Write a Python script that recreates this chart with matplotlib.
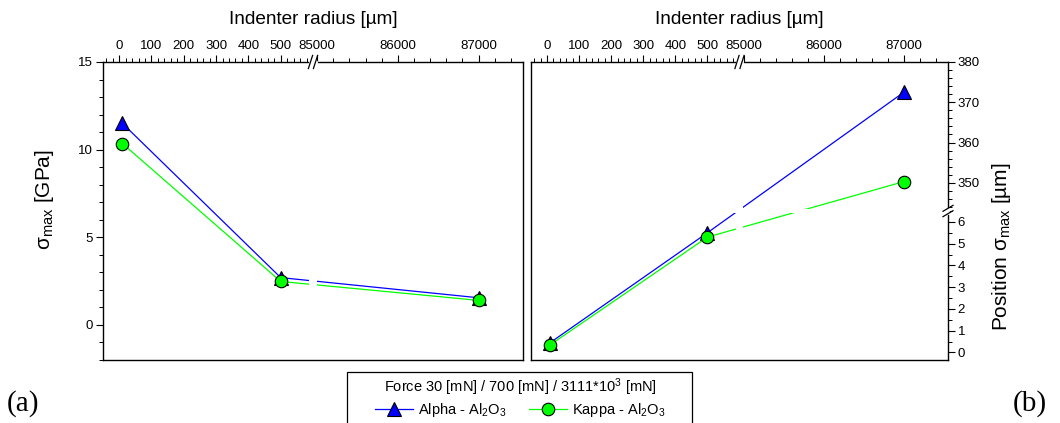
import numpy as np
import matplotlib.pyplot as plt
from matplotlib.lines import Line2D
from matplotlib.patches import Rectangle

plt.rcParams['font.family'] = ['Liberation Sans', 'DejaVu Sans']
plt.rcParams['mathtext.default'] = 'regular'

# indenter radius [µm]
radius = [10, 500, 87000]

# maximum stress [GPa]
alpha_sigma = [11.5, 2.7, 1.55]
kappa_sigma = [10.35, 2.48, 1.4]

# position of maximum stress [µm]
alpha_pos = [0.45, 5.5, 372.5]
kappa_pos = [0.35, 5.3, 350.3]

x_ticks = [0, 100, 200, 300, 400, 500, 85000, 86000, 87000]
x_minor = list(range(-40, 600, 20)) + list(range(85000, 87600, 200))
sigma_ticks = [0, 5, 10, 15]
sigma_minor = list(range(-2, 16))
pos_ticks = [0, 1, 2, 3, 4, 5, 6, 350, 360, 370, 380]
pos_minor = list(np.arange(0, 6.6, 0.5)) + list(range(344, 381, 2))

BLUE = '#0000ff'
GREEN = '#00ff00'


def make_break(lo_end, hi_start, ratio):
    """Piecewise linear scale with a gap between lo_end and hi_start"""
    def forward(v):
        v = np.asarray(v, dtype=float)
        return np.where(v <= lo_end, v,
                        np.where(v >= hi_start, lo_end + (v - hi_start) * ratio, lo_end))

    def inverse(t):
        t = np.asarray(t, dtype=float)
        return np.where(t <= lo_end, t, hi_start + (t - lo_end) / ratio)
    return forward, inverse


def slashes(ax, x, y, dx, dy, sep_x, sep_y):
    """Draw a // break mark centred at (x, y) in axes coords"""
    for s in (-1, 1):
        ax.plot([x + s * sep_x - dx, x + s * sep_x + dx],
                [y + s * sep_y - dy, y + s * sep_y + dy],
                transform=ax.transAxes, color='black', lw=0.9,
                clip_on=False, zorder=5)


def setup_x(ax):
    ax.set_xscale('function', functions=make_break(600, 84950, 0.25))
    ax.set_xlim(-50, 87550)
    ax.set_xticks(x_ticks)
    ax.set_xticklabels([str(t) for t in x_ticks])
    ax.set_xticks(x_minor, minor=True)
    ax.xaxis.tick_top()
    ax.xaxis.set_label_position('top')
    ax.tick_params(axis='x', which='both', top=True, bottom=False,
                   labeltop=True, labelbottom=False, direction='out', pad=2,
                   labelsize=9.5)
    ax.tick_params(axis='x', which='major', length=5, width=0.8)
    ax.tick_params(axis='x', which='minor', length=3, width=0.7)
    ax.set_xlabel('Indenter radius [µm]', fontsize=13.7, labelpad=12)
    # white band so lines are cut at the break
    ax.add_patch(Rectangle((0.5 - 0.009, 0), 0.018, 1, transform=ax.transAxes,
                           facecolor='white', edgecolor='none', zorder=2.1))
    # gap in the top spine and break mark
    ax.plot([0.5 - 0.006, 0.5 + 0.006], [1, 1], transform=ax.transAxes,
            color='white', lw=2, clip_on=False, zorder=4)
    slashes(ax, 0.5, 1.0, 0.005, 0.022, 0.006, 0.0)


def plot_series(ax, ya, yk):
    ax.plot(radius, ya, color=BLUE, lw=0.9, marker='^', ms=10,
            mfc=BLUE, mec='black', mew=0.8, zorder=2)
    ax.plot(radius, yk, color=GREEN, lw=0.9, marker='o', ms=9,
            mfc=GREEN, mec='black', mew=0.8, zorder=2)


fig = plt.figure(figsize=(10.6, 4.23), dpi=100)
ax1 = fig.add_axes([103 / 1060, 63 / 423, 420 / 1060, 298 / 423])
ax2 = fig.add_axes([531 / 1060, 63 / 423, 417 / 1060, 298 / 423])

for ax in (ax1, ax2):
    for sp in ax.spines.values():
        sp.set_linewidth(1.0)

# (a) maximum stress
plot_series(ax1, alpha_sigma, kappa_sigma)
setup_x(ax1)
ax1.set_ylim(-2, 15)
ax1.set_yticks(sigma_ticks)
ax1.set_yticks(sigma_minor, minor=True)
ax1.tick_params(axis='y', which='both', left=True, right=False,
                direction='out', labelsize=9.5, pad=2)
ax1.tick_params(axis='y', which='major', length=5, width=0.8)
ax1.tick_params(axis='y', which='minor', length=3, width=0.7)
ax1.set_ylabel(r'$\sigma_{max}$ [GPa]', fontsize=15)
ax1.yaxis.set_label_coords(-0.112, 0.54)

# (b) position of maximum stress
plot_series(ax2, alpha_pos, kappa_pos)
setup_x(ax2)
ax2.set_yscale('function', functions=make_break(6.5, 343, 6.85 / 37))
ax2.set_ylim(-0.35, 380)
ax2.set_yticks(pos_ticks)
ax2.set_yticklabels([str(t) for t in pos_ticks])
ax2.set_yticks(pos_minor, minor=True)
ax2.yaxis.tick_right()
ax2.yaxis.set_label_position('right')
ax2.tick_params(axis='y', which='both', left=False, right=True,
                labelleft=False, labelright=True,
                direction='out', labelsize=9.5, pad=2)
ax2.tick_params(axis='y', which='major', length=5, width=0.8)
ax2.tick_params(axis='y', which='minor', length=3, width=0.7)
ax2.set_ylabel(r'Position $\sigma_{max}$ [µm]', fontsize=15)
ax2.yaxis.set_label_coords(1.1, 0.38)
ax2.add_patch(Rectangle((0, 0.5 - 0.008), 1, 0.016, transform=ax2.transAxes,
                        facecolor='white', edgecolor='none', zorder=2.1))
ax2.plot([1, 1], [0.5 - 0.008, 0.5 + 0.008], transform=ax2.transAxes,
         color='white', lw=2, clip_on=False, zorder=4)
slashes(ax2, 1.0, 0.5, 0.012, 0.01, 0.0, 0.009)

# legend below the panels
handles = [
    Line2D([], [], color=BLUE, lw=0.9, marker='^', ms=10, mfc=BLUE,
           mec='black', mew=0.8),
    Line2D([], [], color=GREEN, lw=0.9, marker='o', ms=9, mfc=GREEN,
           mec='black', mew=0.8),
]
labels = [r'Alpha - Al$_2$O$_3$', r'Kappa - Al$_2$O$_3$']
fig.legend(handles, labels, title=r'Force 30 [mN] / 700 [mN] / 3111*10$^3$ [mN]',
           loc='upper center', bbox_to_anchor=(0.4906, 0.13), ncol=2,
           frameon=False, fontsize=10.5, title_fontsize=10.5, handlelength=2.6,
           handletextpad=0.3, columnspacing=1.6, borderpad=0.1, labelspacing=0.2)
fig.patches.append(Rectangle((347 / 1060, -0.05), 345 / 1060, 0.05 + 51 / 423,
                             transform=fig.transFigure, facecolor='none',
                             edgecolor='black', lw=0.9))

fig.text(0.006, 0.047, '(a)', family='Liberation Serif', fontsize=21, va='center')
fig.text(0.955, 0.047, '(b)', family='Liberation Serif', fontsize=21, va='center')

plt.savefig('out.png', dpi=100)
plt.close()
